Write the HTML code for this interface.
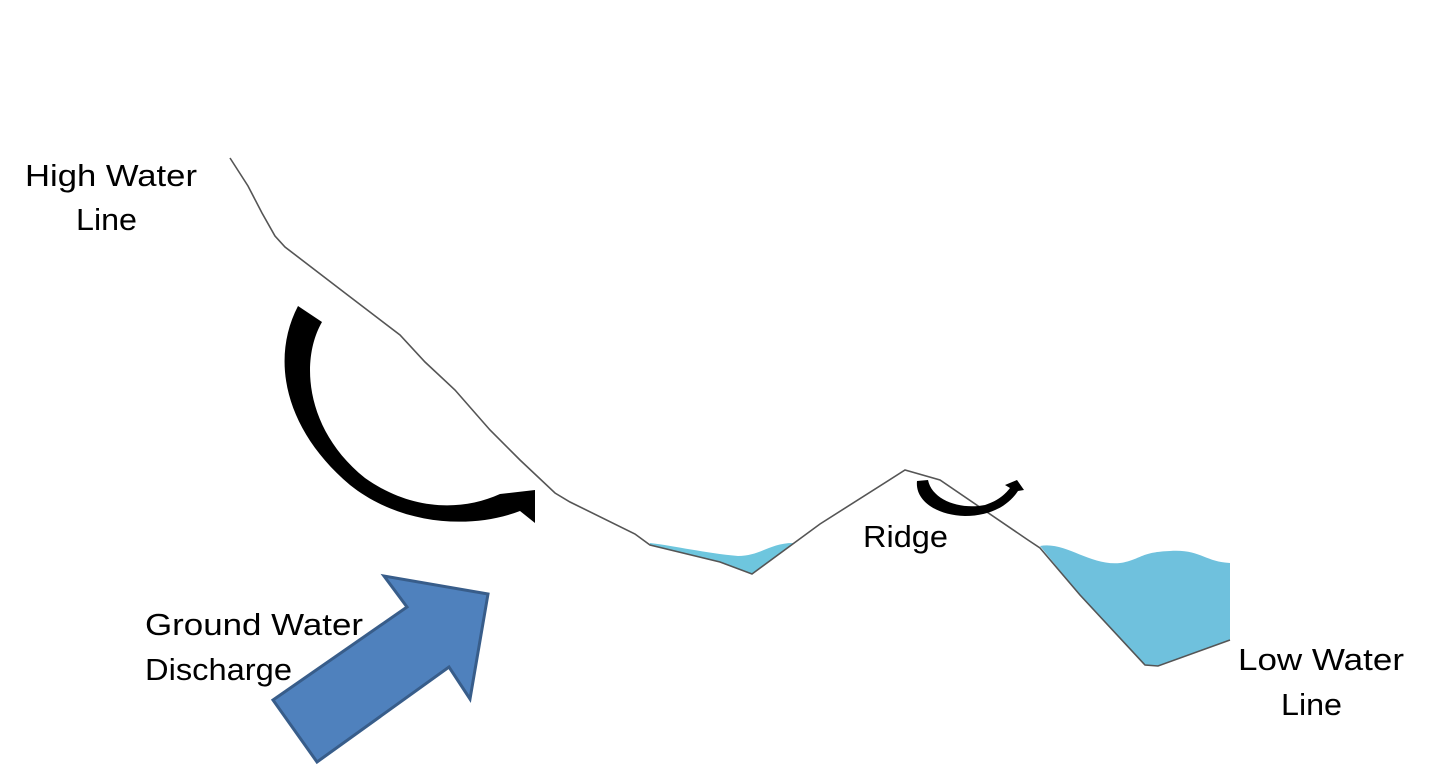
<!DOCTYPE html>
<html><head><meta charset="utf-8"><style>
html,body{margin:0;padding:0;background:#fff;}
svg{display:block;}
text{font-family:"Liberation Sans",sans-serif;font-size:31px;fill:#000;}
</style></head><body>
<svg width="1438" height="781" viewBox="0 0 1438 781">
<path fill="#6ec6de" d="M650 543 C675 546 705 553 738 556 C760 556 770 543 793 543 L752 574 L720 562 L650 545 Z"/>
<path fill="#6fc1dd" d="M1040 546 C1065 541 1090 566 1120 563 C1140 560 1140 552 1170 551 C1200 549 1205 562 1230 563 L1230 640 L1158 666 L1145 665 L1080 595 Z"/>
<polyline fill="none" stroke="#555" stroke-width="1.6" points="230,158 248,186 262,213 275,236 285,247 345,293 400,335 425,362 455,390 490,430 520,460 555,493 570,502 635,534 650,545 720,562 752,574 820,524 905,470 940,480 1028,540 1040,548 1080,595 1145,665 1158,666 1230,640"/>
<path fill="#000" d="M298 306 L322 322 C300 360 305 430 365 478 C410 510 460 512 500 494 L535 490 L535 523 L520 511 C470 530 400 525 350 485 C285 430 270 360 298 306 Z"/>
<path fill="#000" d="M917 481 L928 480 C932 500 960 510 985 505 C1000 500 1006 493 1010 488 L1005 485 L1017 480 L1024 490 L1018 491 C1008 506 990 516 965 516 C935 515 915 500 917 481 Z"/>
<polygon fill="#4f81bd" stroke="#385d8a" stroke-width="3" stroke-linejoin="miter" points="273,700 407,607 384,576 488,594 470,699 449,667 317,762"/>
<text x="25" y="186" textLength="172" lengthAdjust="spacingAndGlyphs">High Water</text>
<text x="76" y="230" textLength="61" lengthAdjust="spacingAndGlyphs">Line</text>
<text x="863" y="547" textLength="85" lengthAdjust="spacingAndGlyphs">Ridge</text>
<text x="145" y="635" textLength="218" lengthAdjust="spacingAndGlyphs">Ground Water</text>
<text x="145" y="680" textLength="147" lengthAdjust="spacingAndGlyphs">Discharge</text>
<text x="1238" y="670" textLength="166" lengthAdjust="spacingAndGlyphs">Low Water</text>
<text x="1281" y="715" textLength="61" lengthAdjust="spacingAndGlyphs">Line</text>
</svg>
</body></html>
